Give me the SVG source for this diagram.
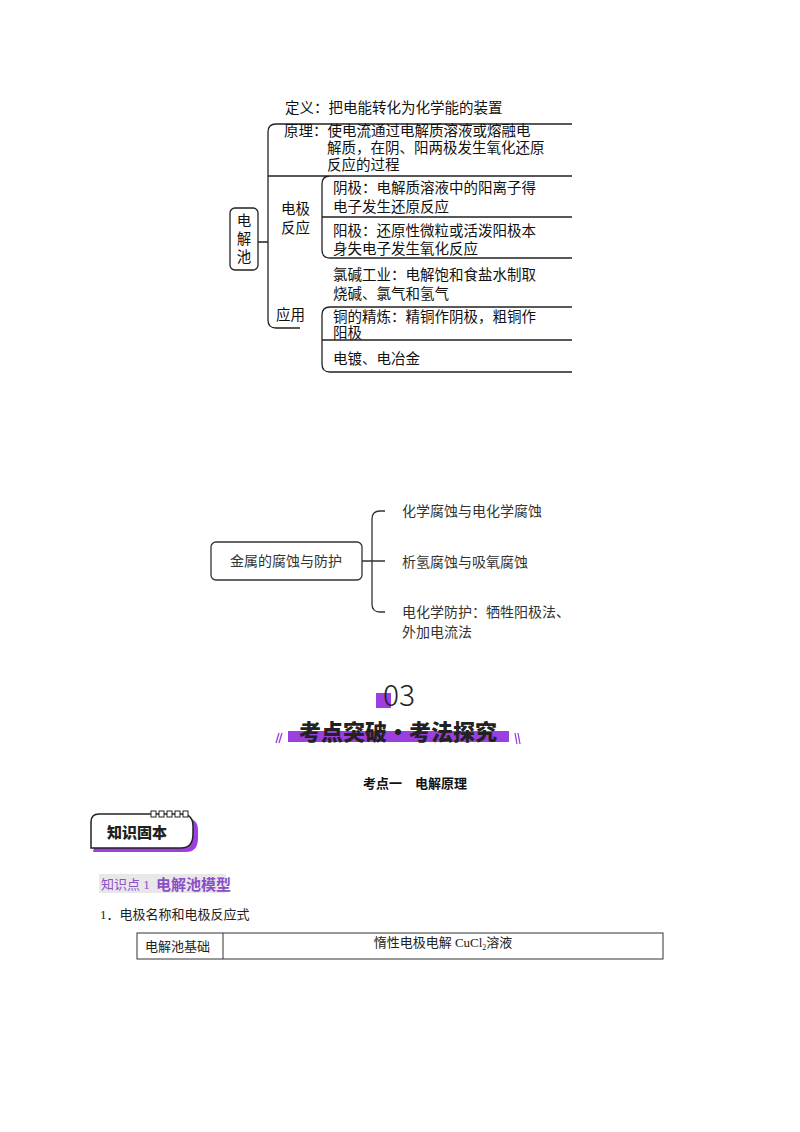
<svg xmlns="http://www.w3.org/2000/svg" width="800" height="1132" viewBox="0 0 800 1132">
<style>
.s{font-family:"Liberation Serif","Noto Sans CJK SC",serif;font-size:14.5px;fill:#111}
.a{font-family:"Noto Sans CJK SC",sans-serif;font-size:14px;fill:#333}
.ln{fill:none;stroke:#222;stroke-width:1.3}
.ln2{fill:none;stroke:#333;stroke-width:1.3}
</style>
<rect width="800" height="1132" fill="#fff"/>
<g id="connectors">
<path class="ln" d="M258 242H268M572 124H276Q268 124 268 132V320Q268 328 276 328H300"/>
<path class="ln" d="M268 176H572M572 176H330Q322 176 322 184V250Q322 258 330 258H572M322 217H572"/>
<path class="ln" d="M572 307H330Q322 307 322 315V364Q322 372 330 372H572M322 340H572"/>
<path class="ln2" d="M362 561H372M385 511H380Q372 511 372 519V604Q372 612 380 612H385M372 561H385"/>
</g>
<g id="n-root"><rect x="230" y="208" width="28" height="62" rx="5" class="ln"/>
<text class="s" x="244" y="226" text-anchor="middle">电</text><text class="s" x="244" y="244" text-anchor="middle">解</text><text class="s" x="244" y="262" text-anchor="middle">池</text></g>
<g id="n-def"><text class="s" x="285" y="113">定义：把电能转化为化学能的装置</text></g>
<g id="n-prin"><text class="s" x="284" y="136">原理：使电流通过电解质溶液或熔融电</text><text class="s" x="327" y="153">解质，在阴、阳两极发生氧化还原</text><text class="s" x="327" y="170">反应的过程</text></g>
<g id="n-elec"><text class="s" x="281" y="214">电极</text><text class="s" x="281" y="233">反应</text></g>
<g id="n-cath"><text class="s" x="333" y="193">阴极：电解质溶液中的阳离子得</text><text class="s" x="333" y="212">电子发生还原反应</text></g>
<g id="n-anod"><text class="s" x="333" y="236">阳极：还原性微粒或活泼阳极本</text><text class="s" x="333" y="254">身失电子发生氧化反应</text></g>
<g id="n-app"><text class="s" x="276" y="320">应用</text></g>
<g id="n-cl"><text class="s" x="333" y="280">氯碱工业：电解饱和食盐水制取</text><text class="s" x="333" y="299">烧碱、氯气和氢气</text></g>
<g id="n-cu"><text class="s" x="333" y="322">铜的精炼：精铜作阴极，粗铜作</text><text class="s" x="333" y="338">阳极</text></g>
<g id="n-plate"><text class="s" x="333" y="364">电镀、电冶金</text></g>
<g id="m-root"><rect x="211" y="542" width="151" height="38" rx="5" class="ln2"/><text class="a" x="286" y="566" text-anchor="middle">金属的腐蚀与防护</text></g>
<g id="m1"><text class="a" x="402" y="516">化学腐蚀与电化学腐蚀</text></g>
<g id="m2"><text class="a" x="402" y="567">析氢腐蚀与吸氧腐蚀</text></g>
<g id="m3"><text class="a" x="402" y="617">电化学防护：牺牲阳极法、</text><text class="a" x="402" y="637">外加电流法</text></g>
<g id="sec">
<rect x="376" y="693" width="15" height="15" fill="#9b3fe0"/>
<text x="383" y="706" font-family="Noto Sans CJK SC,sans-serif" font-size="30" font-weight="300" fill="#222">03</text>
<rect x="288" y="731" width="221" height="11" fill="#9b3fe0"/>
<text x="398" y="740" text-anchor="middle" font-family="Noto Sans CJK SC,sans-serif" font-size="22" font-weight="900" fill="#222">考点突破·考法探究</text>
<g stroke="#9b3fe0" stroke-width="1.3"><line x1="276" y1="743" x2="279" y2="733"/><line x1="279" y1="743" x2="282" y2="733"/><line x1="515" y1="733" x2="517" y2="744"/><line x1="518" y1="733" x2="520" y2="744"/></g>
</g>
<text x="415" y="788" text-anchor="middle" font-family="Noto Sans CJK SC,sans-serif" font-size="13" font-weight="700" fill="#111">考点一　电解原理</text>
<g id="badge">
<path d="M95 842V826Q95 818 103 818H185Q198 818 198 830V838Q198 852 186 852H93Z" fill="#9b3fe0"/>
<path d="M91 848V822Q91 814 99 814H181Q193 814 193 826V834Q193 848 181 848Z" fill="#fff" stroke="#222" stroke-width="1.5"/>
<g fill="#fff" stroke="#222" stroke-width="1"><rect x="151" y="811" width="5" height="6"/><rect x="159" y="811" width="5" height="6"/><rect x="167" y="811" width="5" height="6"/><rect x="175" y="811" width="5" height="6"/><rect x="183" y="811" width="5" height="6"/></g>
<text x="107" y="838" font-family="Noto Sans CJK SC,sans-serif" font-size="15" font-weight="900" fill="#222">知识固本</text>
</g>
<rect x="99" y="874" width="127" height="19" fill="#e8e8e8"/>
<text x="101" y="889" font-family="Liberation Serif,Noto Sans CJK SC,serif" font-size="13" fill="#8b4fc8">知识点 1</text>
<text x="156" y="890" font-family="Noto Sans CJK SC,sans-serif" font-size="15" font-weight="700" fill="#8b4fc8">电解池模型</text>
<text x="100" y="919" font-family="Liberation Serif,Noto Sans CJK SC,serif" font-size="13" fill="#222">1．电极名称和电极反应式</text>
<g id="table" fill="none" stroke="#333" stroke-width="1">
<rect x="137" y="933" width="526" height="26"/><line x1="223" y1="933" x2="223" y2="959"/></g>
<text x="145" y="951" font-family="Liberation Serif,Noto Sans CJK SC,serif" font-size="13" fill="#222">电解池基础</text>
<text x="443" y="947" text-anchor="middle" font-family="Liberation Serif,Noto Sans CJK SC,serif" font-size="13" fill="#222">惰性电极电解 CuCl<tspan font-size="8" dy="3">2</tspan><tspan dy="-3">溶液</tspan></text>
</svg>
